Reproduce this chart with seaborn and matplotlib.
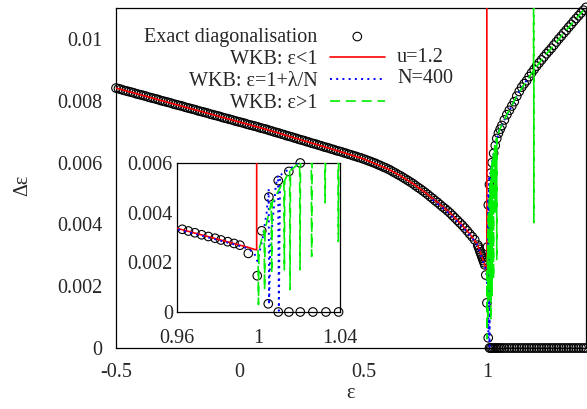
import numpy as np
import matplotlib
matplotlib.use('Agg')
import matplotlib.pyplot as plt
import seaborn as sns

# Level spacing, in units of 1e-3

# exact diagonalisation below eps = 1 (grid step 0.01, from -0.5 to 0.95)
exact_low_gap = [
    8.41, 8.39, 8.37, 8.34, 8.32, 8.30, 8.28, 8.26, 8.23, 8.21,
    8.19, 8.17, 8.15, 8.12, 8.10, 8.08, 8.06, 8.04, 8.01, 7.99,
    7.97, 7.95, 7.93, 7.90, 7.88, 7.86, 7.84, 7.82, 7.79, 7.77,
    7.75, 7.73, 7.71, 7.68, 7.66, 7.64, 7.62, 7.60, 7.57, 7.55,
    7.53, 7.51, 7.49, 7.46, 7.44, 7.42, 7.40, 7.38, 7.35, 7.33,
    7.31, 7.29, 7.27, 7.24, 7.22, 7.20, 7.18, 7.16, 7.13, 7.11,
    7.09, 7.07, 7.04, 7.02, 6.99, 6.97, 6.95, 6.92, 6.90, 6.87,
    6.85, 6.83, 6.80, 6.78, 6.75, 6.73, 6.71, 6.68, 6.66, 6.63,
    6.61, 6.59, 6.56, 6.54, 6.51, 6.49, 6.47, 6.44, 6.42, 6.39,
    6.37, 6.35, 6.32, 6.30, 6.27, 6.25, 6.22, 6.20, 6.17, 6.15,
    6.12, 6.09, 6.06, 6.03, 6.00, 5.97, 5.93, 5.90, 5.86, 5.83,
    5.79, 5.75, 5.70, 5.66, 5.61, 5.57, 5.52, 5.47, 5.42, 5.37,
    5.32, 5.26, 5.20, 5.15, 5.09, 5.03, 4.97, 4.90, 4.84, 4.77,
    4.71, 4.64, 4.57, 4.51, 4.44, 4.37, 4.29, 4.21, 4.13, 4.05,
    3.97, 3.88, 3.79, 3.69, 3.60, 3.50,
]
exact_low_eps = np.linspace(-0.5, 0.95, len(exact_low_gap))

# individual levels around eps = 1 (from the inset)
near_eps = [0.9626, 0.9656, 0.9688, 0.9721, 0.9754, 0.9787, 0.9816,
            0.9849, 0.9880, 0.9909, 0.9950, 0.9994, 1.0048]
near_gap = [3.33, 3.26, 3.19, 3.11, 3.04, 2.97, 2.90,
            2.83, 2.76, 2.69, 2.36, 1.46, 0.33]

# upper branch above eps = 1
upper_eps = [1.0016, 1.0051, 1.0097, 1.0149, 1.0205, 1.0267, 1.0331, 1.0393,
             1.046, 1.053, 1.06, 1.07, 1.08, 1.09, 1.10, 1.11, 1.12, 1.13,
             1.14, 1.15, 1.16, 1.17, 1.18, 1.19, 1.20, 1.21, 1.22, 1.23,
             1.24, 1.25, 1.26, 1.27, 1.28, 1.29, 1.30, 1.31, 1.32, 1.33,
             1.34, 1.35, 1.36, 1.37, 1.38, 1.39, 1.40]
upper_gap = [3.27, 4.63, 5.29, 5.66, 6.00, 6.30, 6.55, 6.78,
             6.95, 7.08, 7.20, 7.38, 7.55, 7.69, 7.83, 7.97, 8.15, 8.30,
             8.44, 8.55, 8.65, 8.78, 8.90, 9.01, 9.12, 9.22, 9.32, 9.42,
             9.52, 9.61, 9.70, 9.80, 9.90, 10.00, 10.09, 10.19, 10.28, 10.38,
             10.47, 10.57, 10.66, 10.75, 10.84, 10.93, 11.02]

# degenerate partners above eps = 1 (zero spacing)
zero_eps = upper_eps[2:]
zero_gap = [0.0] * len(zero_eps)

# WKB eps < 1
red_eps = [-0.5, -0.4, -0.3, -0.2, -0.1, 0.0, 0.1, 0.2, 0.3, 0.4, 0.5, 0.6,
           0.65, 0.7, 0.75, 0.8, 0.85, 0.9, 0.93, 0.96, 0.97, 0.98, 0.99,
           0.995, 0.998, 0.9991, 0.9992]
red_gap = [8.41, 8.19, 7.97, 7.75, 7.53, 7.31, 7.09, 6.85, 6.61, 6.37, 6.12, 5.79,
           5.57, 5.32, 5.03, 4.71, 4.37, 3.97, 3.69, 3.37, 3.15, 2.93, 2.71,
           2.60, 2.52, 2.50, 20.0]

# WKB eps = 1 + lambda/N
blue_eps = [0.78, 0.80, 0.83, 0.86, 0.89, 0.92, 0.94, 0.96, 0.97, 0.98, 0.99,
            0.995, 0.998, 0.9995, 1.002, 1.004, 1.0050, 1.0052, 1.0058, 1.0085,
            1.0096, 1.0100, 1.0106, 1.014, 1.020, 1.027, 1.035, 1.05, 1.07,
            1.10, 1.13, 1.17]
blue_gap = [4.80, 4.67, 4.47, 4.25, 4.01, 3.75, 3.56, 3.34, 3.12, 2.90, 2.68,
            2.55, 2.35, 2.05, 2.95, 4.00, 4.95, 0.30, 2.60, 5.10,
            5.50, 0.05, 5.50, 5.70, 6.00, 6.30, 6.60, 7.05, 7.38,
            7.83, 8.30, 8.78]

# WKB eps > 1
green_eps = [0.9998, 1.0000, 1.0002, 1.0028, 1.0030, 1.0032, 1.0063, 1.0065, 1.0067,
             1.0125, 1.0127, 1.0129, 1.0153, 1.0155, 1.0157, 1.0202, 1.0204, 1.0206,
             1.0259, 1.0261, 1.0263, 1.0325, 1.0327, 1.0329, 1.0390, 1.0392, 1.0394,
             1.05, 1.08, 1.12, 1.16, 1.188, 1.1886, 1.1890, 1.1894,
             1.22, 1.26, 1.30, 1.34, 1.38, 1.40]
green_gap = [2.50, 0.30, 2.50, 3.30, 0.90, 3.30, 4.40, 1.57, 4.40,
             5.30, 1.70, 5.30, 5.70, 0.90, 5.70, 6.00, 1.70, 6.00,
             6.30, 2.24, 6.30, 6.55, 4.40, 6.55, 6.80, 2.84, 6.80,
             7.05, 7.55, 8.15, 8.65, 8.98, 20.0, 4.06, 8.99,
             9.32, 9.70, 10.09, 10.47, 10.84, 11.02]

ed_eps = np.concatenate([exact_low_eps, near_eps, upper_eps, zero_eps])
ed_gap = np.concatenate([exact_low_gap, near_gap, upper_gap, zero_gap]) * 1e-3
red_gap = np.array(red_gap) * 1e-3
blue_gap = np.array(blue_gap) * 1e-3
green_gap = np.array(green_gap) * 1e-3

sns.set_style('white')
plt.rcParams['font.family'] = ['Liberation Serif', 'DejaVu Serif']
FS = 14.5

fig = plt.figure(figsize=(5.87, 4.09), dpi=100)
ax = fig.add_axes([0.1976, 0.1491, 0.8007, 0.8313])

red = '#ff0000'
blue = '#0000ff'
green = '#00ee00'


def draw(a, eps, gap, labels):
    sns.scatterplot(x=eps, y=gap, ax=a, marker='o', s=38, facecolors='none',
                    edgecolor='black', linewidth=0.8, clip_on=False, zorder=2,
                    legend=False, label=labels[0])
    sns.lineplot(x=red_eps, y=red_gap, ax=a, sort=False, estimator=None,
                 color=red, linewidth=1.2, zorder=3, legend=False, label=labels[1])
    sns.lineplot(x=blue_eps, y=blue_gap, ax=a, sort=False, estimator=None,
                 color=blue, linewidth=1.4, linestyle=(0, (1, 2.2)), zorder=4,
                 legend=False, label=labels[2])
    sns.lineplot(x=green_eps, y=green_gap, ax=a, sort=False, estimator=None,
                 color=green, linewidth=1.2, linestyle=(0, (6, 3.5)), zorder=5,
                 legend=False, label=labels[3])


draw(ax, ed_eps, ed_gap,
     ['Exact diagonalisation', 'WKB: ε<1', 'WKB: ε=1+λ/N', 'WKB: ε>1'])

ax.set_xlim(-0.5, 1.4)
ax.set_ylim(0, 0.011)
ax.set_xticks([-0.5, 0, 0.5, 1])
ax.set_xticklabels(['-0.5', '0', '0.5', '1'])
ax.set_yticks([0, 0.002, 0.004, 0.006, 0.008, 0.01])
ax.set_yticklabels(['0', '0.002', '0.004', '0.006', '0.008', '0.01'])
ax.tick_params(axis='both', length=0, labelsize=FS)
ax.tick_params(axis='x', pad=11)
ax.tick_params(axis='y', pad=10)
ax.set_xlabel('ε', fontsize=FS, labelpad=1)
ax.set_ylabel('Δε', fontsize=FS)
ax.yaxis.set_label_coords(-0.179, 0.479)
for sp in ax.spines.values():
    sp.set_color('black')
    sp.set_linewidth(0.9)

ax.legend(loc='upper right', bbox_to_anchor=(0.5723, 0.942), markerfirst=False,
          frameon=False, handlelength=2.75, handletextpad=0.6, labelspacing=0.15,
          borderpad=0, borderaxespad=0, fontsize=FS, scatterpoints=1)
ax.text(0.598, 0.853, 'u=1.2', transform=ax.transAxes, fontsize=FS, va='center')
ax.text(0.598, 0.794, 'N=400', transform=ax.transAxes, fontsize=FS, va='center')

# inset around eps = 1
ins = fig.add_axes([0.3015, 0.2372, 0.2777, 0.3643])
ins.set_facecolor('white')
mask = (ed_eps >= 0.96) & (ed_eps <= 1.04) & (ed_gap <= 0.00601)
draw(ins, ed_eps[mask], ed_gap[mask], [None] * 4)
ins.set_xlim(0.96, 1.04)
ins.set_ylim(0, 0.006)
ins.set_xticks([0.96, 1, 1.04])
ins.set_xticklabels(['0.96', '1', '1.04'])
ins.set_yticks([0, 0.002, 0.004, 0.006])
ins.set_yticklabels(['0', '0.002', '0.004', '0.006'])
ins.tick_params(axis='both', length=0, labelsize=FS)
ins.tick_params(axis='x', pad=12)
ins.tick_params(axis='y', pad=3)
ins.set_xlabel('')
ins.set_ylabel('')
for sp in ins.spines.values():
    sp.set_color('black')
    sp.set_linewidth(0.9)

fig.savefig('out.png', dpi=100)
